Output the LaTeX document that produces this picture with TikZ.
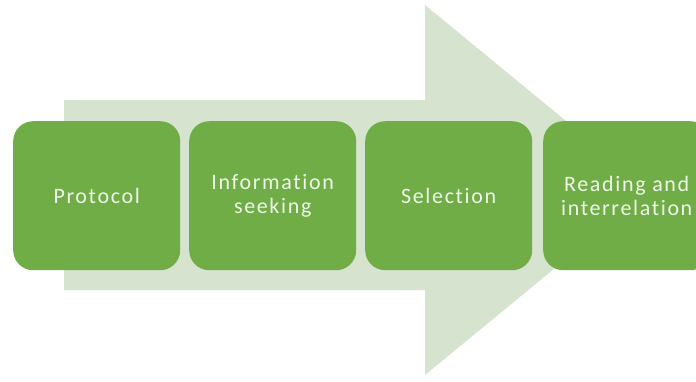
\documentclass[tikz,border=0pt]{standalone}
\usepackage{fontspec}
\setmainfont[Ligatures=NoCommon,LetterSpace=7.5]{Carlito}
\definecolor{boxgreen}{RGB}{112,173,71}
\definecolor{arrowgreen}{RGB}{214,227,206}
\definecolor{txt}{RGB}{238,246,233}
\begin{document}
\begin{tikzpicture}[x=1pt,y=-1pt,
  stepbox/.style={fill=boxgreen, rounded corners=20pt, minimum width=167pt, minimum height=149pt,
    inner sep=0pt, text=txt, align=center, font=\fontsize{22}{24.5}\selectfont, anchor=north west}]
\useasboundingbox (0,0) rectangle (696,381);
\clip (0,0) rectangle (696,381);
\fill[arrowgreen] (64,100) -- (425,100) -- (425,5) -- (650,190) -- (425,375) -- (425,290) -- (64,290) -- cycle;
\node[stepbox] (p1) at (13,121) {Protocol};
\node[stepbox] (p2) at (189,121) {Information\\seeking};
\node[stepbox] (p3) at (365,121) {Selection};
\node[stepbox] (p4) at (543,121) {Reading and\\interrelation};
\end{tikzpicture}
\end{document}
